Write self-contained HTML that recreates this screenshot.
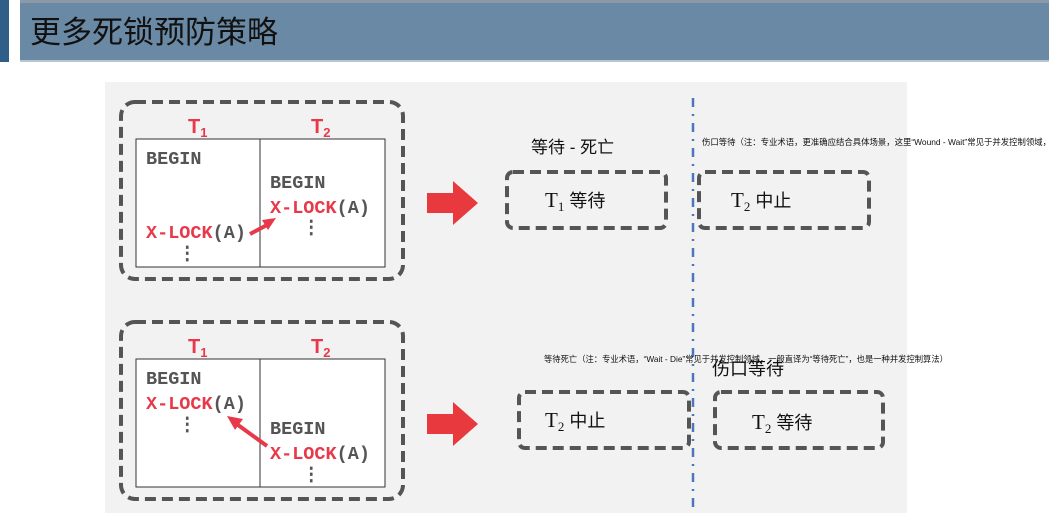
<!DOCTYPE html>
<html><head><meta charset="utf-8"><style>
html,body{margin:0;padding:0;width:1049px;height:513px;overflow:hidden;background:#fff}
svg{display:block}
.cjk{font-family:"Liberation Sans","Noto Sans CJK SC",sans-serif}
.mono{font-family:"Liberation Mono","DejaVu Sans Mono",monospace;font-weight:bold}
</style></head><body>
<svg width="1049" height="513" xmlns="http://www.w3.org/2000/svg">
<rect x="0" y="0" width="1049" height="62" fill="#6a89a4"/>
<rect x="0" y="0" width="1049" height="3" fill="#8a9aa8"/>
<rect x="0" y="0" width="9" height="62" fill="#2f5f88"/>
<rect x="9" y="0" width="11" height="62" fill="#fff"/>
<rect x="20" y="60" width="1029" height="2" fill="#b8c6d2"/>
<text x="30" y="43" font-size="31" class="cjk" fill="#111">更多死锁预防策略</text>

<rect x="105" y="82" width="802" height="431" fill="#f2f2f2"/>

<!-- top left -->
<rect x="121" y="102" width="282" height="177" rx="14" fill="none" stroke="#555" stroke-width="4" stroke-dasharray="11 6"/>
<rect x="136" y="139" width="249" height="128" fill="#fff" stroke="#333" stroke-width="1"/>
<line x1="260" y1="139" x2="260" y2="267" stroke="#333"/>
<text x="188" y="133" font-size="20" class="cjk" fill="#e8394a" font-weight="bold">T<tspan font-size="13" dy="4">1</tspan></text>
<text x="311" y="133" font-size="20" class="cjk" fill="#e8394a" font-weight="bold">T<tspan font-size="13" dy="4">2</tspan></text>
<g class="mono" font-size="18.5">
<text x="146" y="164" fill="#555">BEGIN</text>
<text x="270" y="188" fill="#555">BEGIN</text>
<text x="270" y="213" fill="#e8394a">X-LOCK<tspan fill="#555">(A)</tspan></text>
<text x="146" y="238" fill="#e8394a">X-LOCK<tspan fill="#555">(A)</tspan></text>
<text x="302" y="233" fill="#555">⋮</text>
<text x="178" y="259" fill="#555">⋮</text>
</g>
<line x1="250" y1="234" x2="267" y2="225" stroke="#e8394a" stroke-width="4"/>
<polygon points="276,218 262,220 268,230" fill="#e8394a"/>

<!-- bottom left -->
<rect x="121" y="322" width="282" height="177" rx="14" fill="none" stroke="#555" stroke-width="4" stroke-dasharray="11 6"/>
<rect x="136" y="359" width="249" height="128" fill="#fff" stroke="#333" stroke-width="1"/>
<line x1="260" y1="359" x2="260" y2="487" stroke="#333"/>
<text x="188" y="353" font-size="20" class="cjk" fill="#e8394a" font-weight="bold">T<tspan font-size="13" dy="4">1</tspan></text>
<text x="311" y="353" font-size="20" class="cjk" fill="#e8394a" font-weight="bold">T<tspan font-size="13" dy="4">2</tspan></text>
<g class="mono" font-size="18.5">
<text x="146" y="384" fill="#555">BEGIN</text>
<text x="146" y="409" fill="#e8394a">X-LOCK<tspan fill="#555">(A)</tspan></text>
<text x="178" y="430" fill="#555">⋮</text>
<text x="270" y="434" fill="#555">BEGIN</text>
<text x="270" y="459" fill="#e8394a">X-LOCK<tspan fill="#555">(A)</tspan></text>
<text x="302" y="480" fill="#555">⋮</text>
</g>
<line x1="267" y1="446" x2="238" y2="425" stroke="#e8394a" stroke-width="4"/>
<polygon points="227,416 243,419 235,430" fill="#e8394a"/>

<!-- big arrows -->
<polygon points="427,193 453,193 453,181 478,203 453,225 453,213 427,213" fill="#e8393f"/>
<polygon points="427,414 453,414 453,402 478,424 453,446 453,434 427,434" fill="#e8393f"/>

<!-- divider -->
<line x1="693" y1="98" x2="693" y2="513" stroke="#4a78c0" stroke-width="2.5" stroke-dasharray="9 7 2 7"/>

<!-- right boxes -->
<g fill="none" stroke="#555" stroke-width="4" stroke-dasharray="11 6">
<rect x="507" y="172" width="159" height="56" rx="6"/>
<rect x="699" y="172" width="170" height="56" rx="6"/>
<rect x="519" y="392" width="170" height="56" rx="6"/>
<rect x="715" y="392" width="168" height="56" rx="6"/>
</g>
<g font-family="Liberation Serif,serif" font-size="21" fill="#111">
<text x="545" y="207">T<tspan font-size="13" dy="4">1</tspan><tspan dy="-4" class="cjk" font-size="18"> 等待</tspan></text>
<text x="731" y="207">T<tspan font-size="13" dy="4">2</tspan><tspan dy="-4" class="cjk" font-size="18"> 中止</tspan></text>
<text x="545" y="427">T<tspan font-size="13" dy="4">2</tspan><tspan dy="-4" class="cjk" font-size="18"> 中止</tspan></text>
<text x="752" y="429">T<tspan font-size="13" dy="4">2</tspan><tspan dy="-4" class="cjk" font-size="18"> 等待</tspan></text>
</g>
<text x="531" y="153" font-size="17" class="cjk" fill="#111">等待 - 死亡</text>
<text x="712" y="375" font-size="18" class="cjk" fill="#111">伤口等待</text>
<text x="702" y="145" font-size="8.4" class="cjk" fill="#111">伤口等待（注：专业术语，更准确应结合具体场景，这里“Wound - Wait”常见于并发控制领域，</text>
<text x="544" y="362" font-size="8.3" class="cjk" fill="#111">等待死亡（注：专业术语，“Wait - Die”常见于并发控制领域，一般直译为“等待死亡”，也是一种并发控制算法）</text>
</svg>
</body></html>
